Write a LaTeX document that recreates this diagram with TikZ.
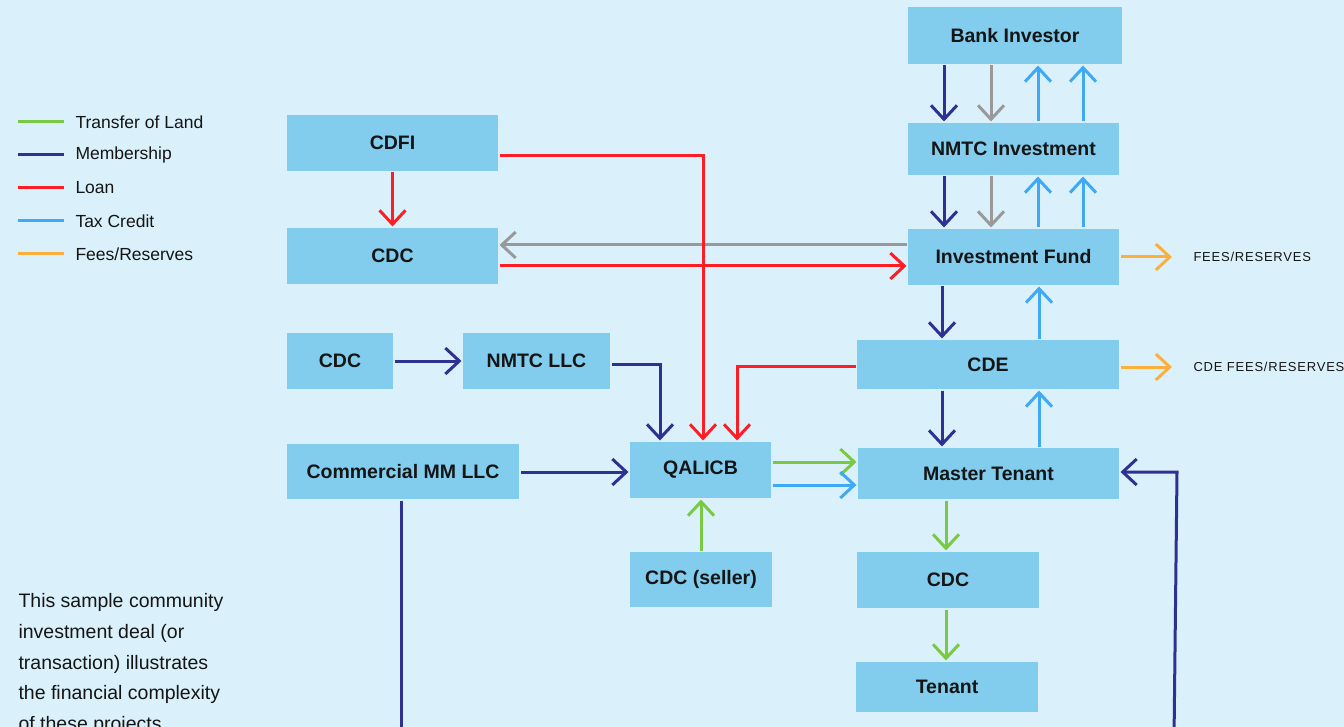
\documentclass[tikz,border=0pt]{standalone}
\usepackage{fontspec}
\setmainfont{Liberation Sans}
\newfontfamily\capsfont[LetterSpace=6]{Liberation Sans}
\usetikzlibrary{arrows.meta}

\definecolor{bgcol}{HTML}{DAF1FB}
\definecolor{boxfill}{HTML}{82CDEE}
\definecolor{ink}{HTML}{151515}
\definecolor{landcol}{HTML}{7AC943}
\definecolor{membercol}{HTML}{2E3192}
\definecolor{loancol}{HTML}{FF1D25}
\definecolor{creditcol}{HTML}{3FA9F5}
\definecolor{feecol}{HTML}{FBB03B}
\definecolor{flowgray}{HTML}{999999}

\begin{document}
\begin{tikzpicture}[x=1pt, y=-1pt, line width=3pt,
  >={Straight Barb[length=14pt,width=26pt]},
  box/.style={fill=boxfill, inner sep=0, text=ink, font=\fontsize{19.5}{22}\selectfont\bfseries},
  legend/.style={anchor=west, inner sep=0, text=ink, font=\fontsize{17.5}{20}\selectfont},
  tag/.style={anchor=west, inner sep=0, text=ink, font=\capsfont\fontsize{13}{15}\selectfont}]
  \useasboundingbox (0,0) rectangle (1344,727);
  \fill[bgcol] (0,0) rectangle (1344,727);

  % legende
  \foreach \c/\t [count=\i] in {landcol/Transfer of Land, membercol/Membership, loancol/Loan, creditcol/Tax Credit, feecol/{Fees/Reserves}} {
    \pgfmathsetmacro{\y}{89+33*\i}
    \draw[\c] (18,\y) -- (64,\y);
    \node[legend] (leg\i) at (74,\y) {\t};
  }
  \node[anchor=north west, align=left, inner sep=0, text=ink, font=\fontsize{19.5}{30.7}\selectfont] (note) at (17,592)
    {This sample community\\investment deal (or\\transaction) illustrates\\the financial complexity\\of these projects};

  % boites
  \node[box, minimum width=214pt, minimum height=57pt] (bank) at (1015,35.5) {Bank Investor};
  \node[box, minimum width=211pt, minimum height=52pt] (nmtc) at (1013.5,149) {NMTC Investment};
  \node[box, minimum width=211pt, minimum height=56pt] (fund) at (1013.5,257) {Investment Fund};
  \node[box, minimum width=262pt, minimum height=49pt] (cde) at (988,364.5) {CDE};
  \node[box, minimum width=261pt, minimum height=51pt] (master) at (988.5,473.5) {Master Tenant};
  \node[box, minimum width=182pt, minimum height=56pt] (cdcb) at (948,580) {CDC};
  \node[box, minimum width=182pt, minimum height=50pt] (tenant) at (947,687) {Tenant};
  \node[box, minimum width=141pt, minimum height=56pt] (qalicb) at (700.5,470) {QALICB};
  \node[box, minimum width=142pt, minimum height=55pt] (seller) at (701,579.5) {CDC (seller)};
  \node[box, minimum width=211pt, minimum height=56pt] (cdfi) at (392.5,143) {CDFI};
  \node[box, minimum width=211pt, minimum height=56pt] (cdca) at (392.5,256) {CDC};
  \node[box, minimum width=106pt, minimum height=56pt] (cdcs) at (340,361) {CDC};
  \node[box, minimum width=147pt, minimum height=56pt] (nmtcllc) at (536.5,361) {NMTC LLC};
  \node[box, minimum width=232pt, minimum height=55pt] (cmm) at (403,471.5) {Commercial MM LLC};
  \node[tag] (fees) at (1192,257) {FEES/RESERVES};
  \node[tag] (cdefees) at (1192,367) {CDE FEES/RESERVES};

  % colonne investisseur
  \foreach \u/\d in {bank/nmtc, nmtc/fund} {
    \draw[->, membercol] (944,0 |- \u.south) -- (944,0 |- \d.north);
    \draw[->, flowgray] (991,0 |- \u.south) -- (991,0 |- \d.north);
    \foreach \x in {1038,1083}
      \draw[->, creditcol] (\x,0 |- \d.north) -- (\x,0 |- \u.south);
  }
  \foreach \u/\d in {fund/cde, cde/master} {
    \draw[->, membercol] (942,0 |- \u.south) -- (942,0 |- \d.north);
    \draw[->, creditcol] (1039,0 |- \d.north) -- (1039,0 |- \u.south);
  }
  \draw[->, feecol] (fund.east) -- ([xshift=-20pt]fees.west);
  \draw[->, feecol] (cde.east |- cdefees.west) -- ([xshift=-20pt]cdefees.west);

  % prets et retours
  \draw[->, flowgray] (fund.west |- 0,245) -- (cdca.east |- 0,245);
  \draw[->, loancol] (cdca.east |- 0,266) -- (fund.west |- 0,266);
  \draw[->, loancol] (cdfi.south) -- (cdca.north);
  \draw[->, loancol] (cdfi.east |- 0,156) -| (703,0 |- qalicb.north);
  \draw[->, loancol] (cde.west |- 0,366) -| (737,0 |- qalicb.north);

  % adhesion vers QALICB
  \draw[->, membercol] (cdcs.east) -- (nmtcllc.west);
  \draw[->, membercol] (nmtcllc.east |- 0,364) -| (660,0 |- qalicb.north);
  \draw[->, membercol] (cmm.east |- 0,472) -- (qalicb.west |- 0,472);
  \coordinate (cmmfoot) at (401,740);
  \draw[membercol] (cmmfoot |- cmm.south) -- (cmmfoot);
  \coordinate (mtfoot) at (1174,740);
  \coordinate (mtcorner) at (1177,472);
  \draw[->, membercol] (mtfoot) -- (mtcorner) -- (master.east |- mtcorner);

  % terrain et credit
  \draw[->, landcol] (qalicb.east |- 0,462) -- (master.west |- 0,462);
  \draw[->, creditcol] (qalicb.east |- 0,485) -- (master.west |- 0,485);
  \draw[->, landcol] (701,0 |- seller.north) -- (701,0 |- qalicb.south);
  \draw[->, landcol] (946,0 |- master.south) -- (946,0 |- cdcb.north);
  \draw[->, landcol] (946,0 |- cdcb.south) -- (946,0 |- tenant.north);
\end{tikzpicture}
\end{document}
